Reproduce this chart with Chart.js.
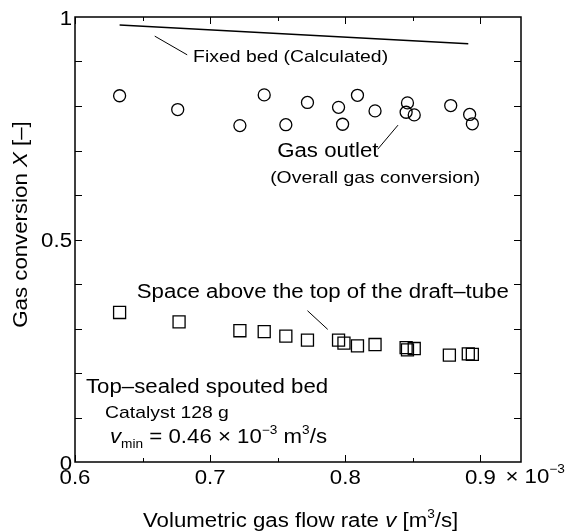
<!DOCTYPE html>
<html>
<head>
<meta charset="utf-8">
<script src="https://cdn.jsdelivr.net/npm/chart.js@4/dist/chart.umd.min.js"></script>
<style>
  html, body { margin: 0; padding: 0; background: #fff; }
  #graph { display: block; }
</style>
</head>
<body>
<canvas id="graph" width="569" height="532"></canvas>
<script>
// flow rate values are in units of 10^-3 m3/s
const flowFixed = [0.633, 0.891];
const convFixed = [0.982, 0.940];

const flowOutlet = [0.633, 0.676, 0.722, 0.740, 0.756, 0.772, 0.795, 0.798, 0.809, 0.822, 0.846, 0.845, 0.851, 0.878, 0.892, 0.894];
const convOutlet = [0.823, 0.792, 0.756, 0.825, 0.758, 0.808, 0.797, 0.759, 0.824, 0.789, 0.807, 0.786, 0.780, 0.801, 0.781, 0.760];

const flowSpace = [0.633, 0.677, 0.722, 0.740, 0.756, 0.772, 0.795, 0.799, 0.809, 0.822, 0.845, 0.846, 0.851, 0.877, 0.891, 0.894];
const convSpace = [0.336, 0.315, 0.295, 0.293, 0.283, 0.274, 0.274, 0.267, 0.261, 0.264, 0.257, 0.252, 0.255, 0.240, 0.243, 0.242];

const xMajorTicks = [0.6, 0.7, 0.8, 0.9];
const xMinorTicks = [0.65, 0.75, 0.85];
const xTickLabels = ['0.6', '0.7', '0.8', '0.9'];
const yTicks = [0.1, 0.2, 0.3, 0.4, 0.5, 0.6, 0.7, 0.8, 0.9];
const yLabelValues = [0, 0.5, 1];
const yTickLabels = ['0', '0.5', '1'];

// leader lines from labels to the curves (data units)
const leaderFixed = [[0.659, 0.957], [0.683, 0.915]];
const leaderOutlet = [[0.839, 0.757], [0.824, 0.703]];
const leaderSpace = [[0.772, 0.340], [0.787, 0.298]];

const FONT = "'Liberation Sans', Arial, sans-serif";
const SX = 1.14;   // the original lettering is a bit wide
const BIG = 19.5;
const SMALL = 17;
const SUB = 12;

function toPoints(xs, ys) {
    return xs.map((x, i) => ({ x: x, y: ys[i] }));
}
function pairPoints(p) {
    return p.map(a => ({ x: a[0], y: a[1] }));
}

function runFont(r) {
    return (r.italic ? 'italic ' : '') + (r.size || BIG) + 'px ' + FONT;
}

// draws a line of mixed text (italics, super/subscripts), horizontally stretched
function drawRich(ctx, runs, x, y, align) {
    let w = 0;
    for (let r of runs) {
        ctx.font = runFont(r);
        r.w = ctx.measureText(r.text).width;
        w += r.w;
    }
    let cx = align === 'center' ? -w / 2 : (align === 'right' ? -w : 0);
    ctx.save();
    ctx.translate(x, y);
    ctx.scale(SX, 1);
    ctx.textAlign = 'left';
    ctx.textBaseline = 'alphabetic';
    ctx.fillStyle = '#000';
    for (let r of runs) {
        ctx.font = runFont(r);
        ctx.fillText(r.text, cx, -(r.rise || 0));
        cx += r.w;
    }
    ctx.restore();
}

const notes = [
    { x: 0.6874, y: 0.899, runs: [{ text: 'Fixed bed (Calculated)', size: SMALL }] },
    { x: 0.7496, y: 0.685, runs: [{ text: 'Gas outlet' }] },
    { x: 0.7444, y: 0.627, runs: [{ text: '(Overall gas conversion)', size: SMALL }] },
    { x: 0.6457, y: 0.3685, runs: [{ text: 'Space above the top of the draft\u2013tube' }] },
    { x: 0.6081, y: 0.155, runs: [{ text: 'Top\u2013sealed spouted bed' }] },
    { x: 0.6222, y: 0.0989, runs: [{ text: 'Catalyst 128 g', size: SMALL }] },
    { x: 0.6259, y: 0.0427, runs: [
        { text: 'v', italic: true },
        { text: 'min', size: SUB, rise: -5 },
        { text: ' = 0.46 ' },
        { text: '\u00d7' },
        { text: ' 10' },
        { text: '\u22123', size: SUB, rise: 9 },
        { text: ' m' },
        { text: '3', size: SUB, rise: 9 },
        { text: '/s' }
    ] }
];

const framePlugin = {
    id: 'frame',
    afterDraw(chart) {
        const ctx = chart.ctx;
        const a = chart.chartArea;
        const xs = chart.scales.x, ys = chart.scales.y;

        ctx.save();
        ctx.strokeStyle = '#000';
        ctx.lineWidth = 1.5;
        ctx.strokeRect(a.left, a.top, a.right - a.left, a.bottom - a.top);

        ctx.lineWidth = 1;
        ctx.beginPath();
        for (let v of xMajorTicks.concat(xMinorTicks)) {
            let len = xMajorTicks.includes(v) ? 7 : 4;
            let px = Math.round(xs.getPixelForValue(v)) + 0.5;
            ctx.moveTo(px, a.bottom); ctx.lineTo(px, a.bottom - len);
            ctx.moveTo(px, a.top); ctx.lineTo(px, a.top + len);
        }
        for (let v of yTicks) {
            let py = Math.round(ys.getPixelForValue(v)) + 0.5;
            ctx.moveTo(a.left, py); ctx.lineTo(a.left + 7, py);
            ctx.moveTo(a.right, py); ctx.lineTo(a.right - 7, py);
        }
        ctx.stroke();
        ctx.restore();

        // tick labels
        xTickLabels.forEach((t, i) => {
            drawRich(ctx, [{ text: t }], xs.getPixelForValue(xMajorTicks[i]), a.bottom + 22, 'center');
        });
        yTickLabels.forEach((t, i) => {
            drawRich(ctx, [{ text: t }], a.left - 3, ys.getPixelForValue(yLabelValues[i]) + 7.5, 'right');
        });
        drawRich(ctx, [{ text: '\u00d7' }, { text: ' 10' }, { text: '\u22123', size: SUB, rise: 10 }],
            xs.getPixelForValue(0.9) + 25, a.bottom + 21, 'left');

        // axis titles
        drawRich(ctx, [
            { text: 'Volumetric gas flow rate ' },
            { text: 'v', italic: true },
            { text: ' [m' },
            { text: '3', size: SUB, rise: 9 },
            { text: '/s]' }
        ], 143, 526.5, 'left');

        ctx.save();
        ctx.translate(27, (a.top + a.bottom) / 2 - 15);
        ctx.rotate(-Math.PI / 2);
        drawRich(ctx, [
            { text: 'Gas conversion ' },
            { text: 'X', italic: true },
            { text: ' [\u2013]' }
        ], 0, 0, 'center');
        ctx.restore();

        // annotations
        for (let n of notes) {
            drawRich(ctx, n.runs, xs.getPixelForValue(n.x), ys.getPixelForValue(n.y), 'left');
        }
    }
};

function leader(points) {
    return {
        type: 'line',
        data: pairPoints(points),
        borderColor: '#000',
        borderWidth: 1,
        pointRadius: 0,
        showLine: true
    };
}

let canvas = document.getElementById('graph').getContext('2d');
let chart = new Chart(canvas, {
    type: 'scatter',
    data: {
        datasets: [
            {
                label: 'Fixed bed (Calculated)',
                type: 'line',
                data: toPoints(flowFixed, convFixed),
                borderColor: '#000',
                borderWidth: 1.4,
                pointRadius: 0,
                showLine: true
            },
            {
                label: 'Gas outlet',
                data: toPoints(flowOutlet, convOutlet),
                pointStyle: 'circle',
                pointRadius: 6,
                borderColor: '#000',
                borderWidth: 1.3,
                backgroundColor: 'rgba(0,0,0,0)'
            },
            {
                label: 'Space above the top of the draft-tube',
                data: toPoints(flowSpace, convSpace),
                pointStyle: 'rect',
                pointRadius: 8.5,
                borderColor: '#000',
                borderWidth: 1.3,
                backgroundColor: 'rgba(0,0,0,0)'
            },
            leader(leaderFixed),
            leader(leaderOutlet),
            leader(leaderSpace)
        ]
    },
    options: {
        responsive: false,
        animation: false,
        layout: { padding: { left: 75, top: 17, right: 48, bottom: 70 } },
        plugins: {
            legend: { display: false },
            tooltip: { enabled: false }
        },
        scales: {
            x: { type: 'linear', min: 0.6, max: 0.93, display: false },
            y: { type: 'linear', min: 0, max: 1, display: false }
        }
    },
    plugins: [framePlugin]
});
</script>
</body>
</html>
